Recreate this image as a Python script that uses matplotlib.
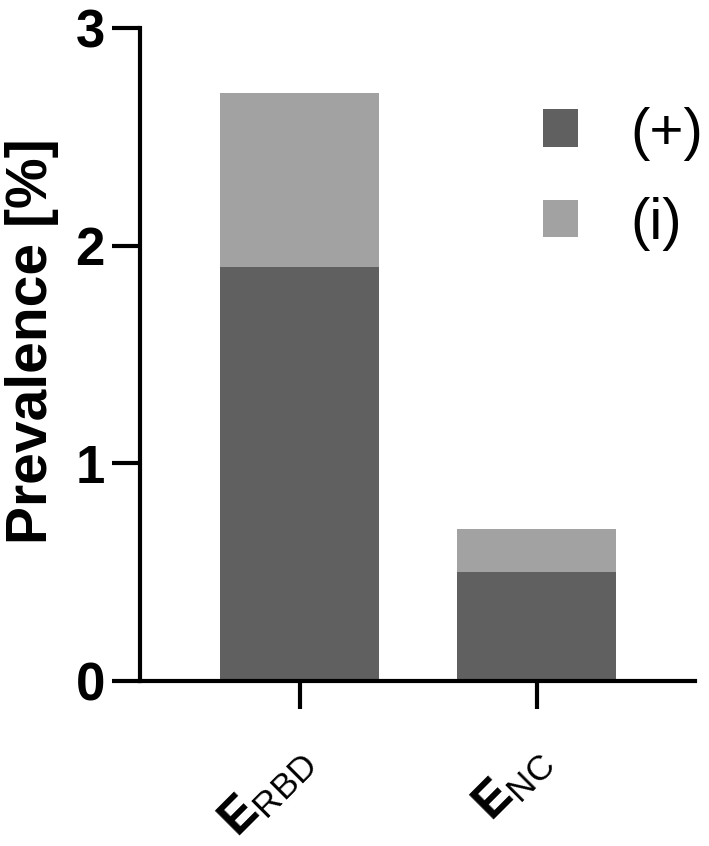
import matplotlib
matplotlib.use("Agg")
import matplotlib.pyplot as plt
import matplotlib.transforms as mtransforms

plt.rcParams['font.family'] = ['Liberation Sans', 'DejaVu Sans']
plt.rcParams['mathtext.fontset'] = 'custom'
plt.rcParams['mathtext.rm'] = 'Liberation Sans'
plt.rcParams['mathtext.bf'] = 'Liberation Sans:bold'
plt.rcParams['mathtext.it'] = 'Liberation Sans:italic'

categories = [r'$\mathbf{E}_{\mathrm{RBD}}$', r'$\mathbf{E}_{\mathrm{NC}}$']
positive = [1.9, 0.5]
indeterminate = [0.8, 0.2]
series_labels = ['(+)', '(i)']
y_ticks = [0, 1, 2, 3]

dark = '#606060'
light = '#a2a2a2'

fig = plt.figure(figsize=(7.09, 8.46), dpi=100)
ax = fig.add_axes([0.197, 0.195, 0.783, 0.772])

x = list(range(len(categories)))
ax.bar(x, positive, width=0.67, color=dark, label=series_labels[0])
ax.bar(x, indeterminate, bottom=positive, width=0.67, color=light, label=series_labels[1])

ax.set_xlim(-0.675, 1.667)
ax.set_ylim(0, 3)
ax.set_yticks(y_ticks)
ax.set_yticklabels([str(t) for t in y_ticks], fontsize=38, fontweight='bold')
ax.set_xticks(x)
ax.set_xticklabels(categories, fontsize=36, rotation=45, ha='right')

for s in ['top', 'right']:
    ax.spines[s].set_visible(False)
for s in ['left', 'bottom']:
    ax.spines[s].set_linewidth(3)
ax.tick_params(axis='both', width=3, length=20, color='black')
ax.tick_params(axis='y', pad=5)
ax.tick_params(axis='x', pad=20)

offset = mtransforms.ScaledTranslation(0.22, 0, fig.dpi_scale_trans)
for lab in ax.get_xticklabels():
    lab.set_transform(lab.get_transform() + offset)

ax.set_ylabel('Prevalence [%]', fontsize=41, fontweight='bold')
ax.yaxis.set_label_coords(-0.145, 0.52)

leg = ax.legend(loc='upper right', frameon=False, fontsize=42,
                handlelength=0.6, handleheight=0.6, handletextpad=0.9,
                labelspacing=0.62, bbox_to_anchor=(1.11, 0.96))

fig.savefig('out.png', dpi=100)
